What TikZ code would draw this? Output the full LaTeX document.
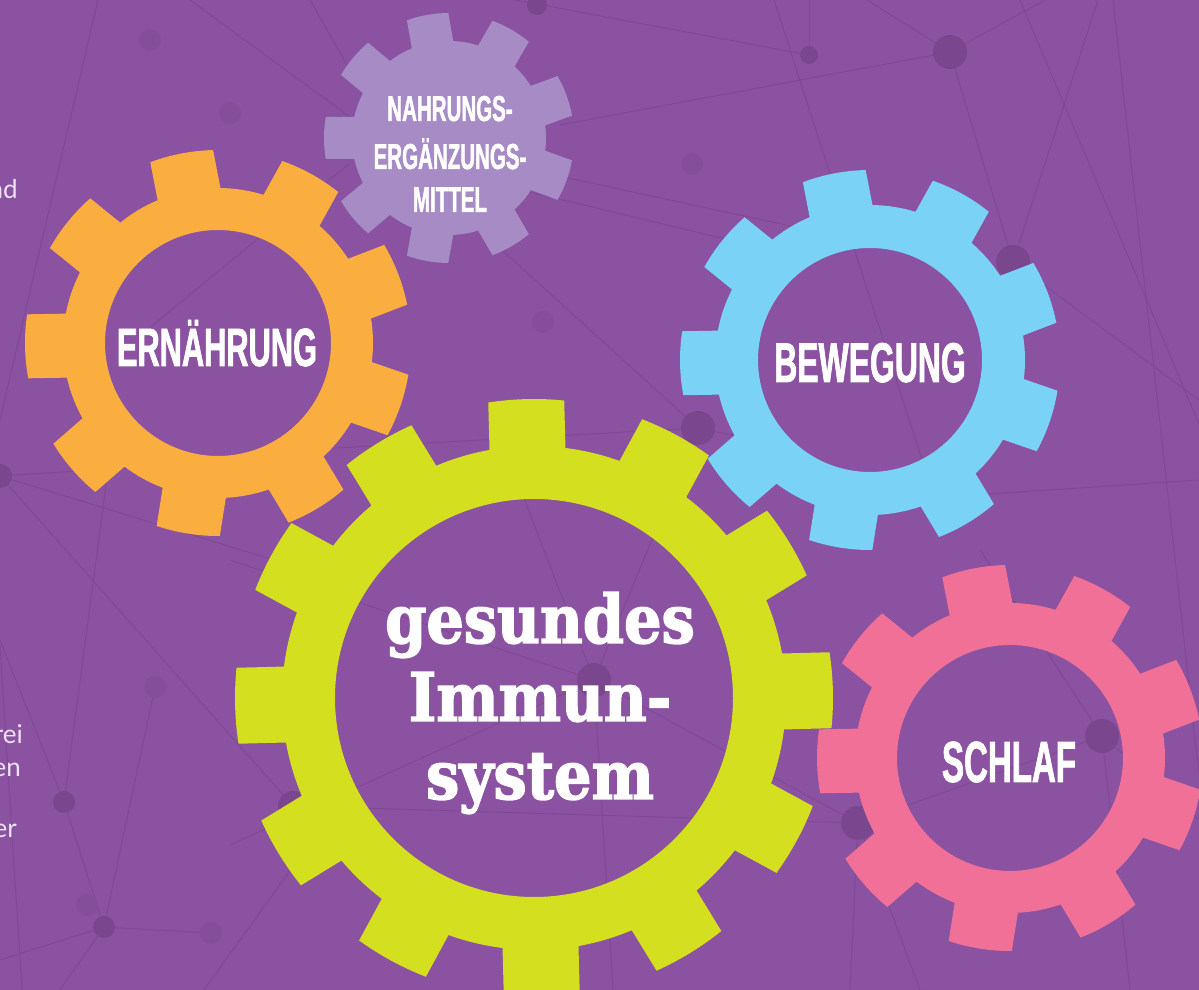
\documentclass[tikz,border=0pt]{standalone}
\usepackage{fontspec}
\newfontfamily\labelfont[FakeStretch=0.57,FakeBold=1.2]{Liberation Sans}
\newfontfamily\slabfont[FakeStretch=0.88,FakeBold=2.2]{DejaVu Serif}
\newfontfamily\sidefont{Lato}
\definecolor{bg}{RGB}{138,82,160}
\definecolor{netline}{RGB}{127,73,148}
\definecolor{netdot}{RGB}{122,70,142}
\definecolor{faintdot}{RGB}{133,78,154}
\definecolor{gorange}{RGB}{251,174,64}
\definecolor{glilac}{RGB}{167,139,196}
\definecolor{gblue}{RGB}{122,211,246}
\definecolor{ggreen}{RGB}{212,223,32}
\definecolor{gpink}{RGB}{240,112,151}
\definecolor{sidetext}{RGB}{236,226,242}
\tikzset{
  net/.style={draw=netline,line width=0.9pt},
  dotbig/.style={fill=netdot},
  dotfaint/.style={fill=faintdot},
  gearlabel/.style={text=white,inner sep=0pt,anchor=base,font=\labelfont\bfseries},
  slablabel/.style={text=white,inner sep=0pt,anchor=base,font=\slabfont\bfseries\fontsize{67}{67}\selectfont},
  sidelabel/.style={text=sidetext,inner sep=0pt,anchor=base east,font=\sidefont\fontsize{26}{26}\selectfont},
}
% #1 cx, #2 cy (image coords, y down), #3 teeth, #4 tip radius, #5 root radius,
% #6 hole path, #7 tooth half width, #8 first tooth angle, #9 colour
\newcommand\drawgear[9]{%
  \pgfmathsetmacro\gbr{asin(#7/#5)}%
  \pgfmathsetmacro\gbt{asin(#7/#4)}%
  \pgfmathsetmacro\gstep{360/#3}%
  \begin{scope}[shift={(#1,990-#2)}]
    \fill[#9,even odd rule] ({#8-\gbr}:#5pt)
      \foreach \i in {1,...,#3}{
        -- ({#8+(\i-1)*\gstep-\gbt}:#4pt)
        arc[start angle={#8+(\i-1)*\gstep-\gbt}, end angle={#8+(\i-1)*\gstep+\gbt}, radius=#4pt]
        -- ({#8+(\i-1)*\gstep+\gbr}:#5pt)
        arc[start angle={#8+(\i-1)*\gstep+\gbr}, end angle={#8+\i*\gstep-\gbr}, radius=#5pt]
      } -- cycle #6;
  \end{scope}}
\begin{document}
\begin{tikzpicture}[x=1pt,y=1pt]
\useasboundingbox (0,0) rectangle (1199,990);
\fill[bg] (0,0) rectangle (1199,990);
\begin{scope}
\clip (0,0) rectangle (1199,990);
% network dots
\coordinate (D1) at (537,985);
\coordinate (D2) at (809,935);
\coordinate (D3) at (950,938);
\coordinate (D4) at (692,826);
\coordinate (D5) at (1013,728);
\coordinate (D6) at (698,562);
\coordinate (D7) at (594,310);
\coordinate (D8) at (293,184);
\coordinate (D9) at (1102,254);
\coordinate (D10) at (858,167);
\coordinate (D11) at (0,514);
\coordinate (D12) at (64,188);
\coordinate (D13) at (104,63);
% network lines
\draw[net] (809,990) -- (D2);
\draw[net] (515,990) -- (D2);
\draw[net] (774,990) -- (935,490);
\draw[net] (560,865) -- (D3);
\draw[net] (D3) -- (1045,990);
\draw[net] (D3) -- (867,990);
\draw[net] (D3) -- (D5);
\draw[net] (D5) -- (1098,990);
\draw[net] (D5) -- (1199,590);
\draw[net] (1020,990) -- (1199,566);
\draw[net] (1113,990) -- (1199,215);
\draw[net] (430,822) -- (800,733);
\draw[net] (540,818) -- (800,762);
\draw[net] (480,760) -- (D6);
\draw[net] (300,540) -- (D6);
\draw[net] (D6) -- (800,540);
\draw[net] (D6) -- (D7);
\draw[net] (490,580) -- (D7);
\draw[net] (230,430) -- (D7);
\draw[net] (D7) -- (230,145);
\draw[net] (D7) -- (D10);
\draw[net] (D7) -- (613,0);
\draw[net] (D8) -- (D10);
\draw[net] (D10) -- (D9);
\draw[net] (D10) -- (850,0);
\draw[net] (D10) -- (920,0);
\draw[net] (980,440) -- (D9);
\draw[net] (D9) -- (1130,0);
\draw[net] (D9) -- (1199,170);
\draw[net] (900,490) -- (1199,510);
\draw[net] (D11) -- (D8);
\draw[net] (D11) -- (290,425);
\draw[net] (D11) -- (250,530);
\draw[net] (D12) -- (108,520);
\draw[net] (D12) -- (D13);
\draw[net] (0,350) -- (D12);
\draw[net] (D13) -- (0,30);
\draw[net] (D13) -- (60,0);
\draw[net] (D13) -- (211,57);
\draw[net] (D13) -- (155,303);
\draw[net] (0,345) -- (22,0);
\draw[net] (204,0) -- (330,175);
\draw[net] (98,990) -- (0,570);
\draw[net] (190,990) -- (350,873);
\draw[net] (310,990) -- (350,920);
\draw[net] (147,660) -- (350,827);
% dots
\fill[dotbig] (D1) circle[radius=10pt];
\fill[dotbig] (D2) circle[radius=9pt];
\fill[dotbig] (D3) circle[radius=17pt];
\fill[dotfaint] (D4) circle[radius=11pt];
\fill[dotbig] (D5) circle[radius=17pt];
\fill[dotbig] (D6) circle[radius=17pt];
\fill[dotbig] (D7) circle[radius=17pt];
\fill[dotbig] (D8) circle[radius=15pt];
\fill[dotbig] (D9) circle[radius=17pt];
\fill[dotbig] (D10) circle[radius=17pt];
\fill[dotbig] (D11) circle[radius=12pt];
\fill[dotbig] (D12) circle[radius=11pt];
\fill[dotbig] (D13) circle[radius=11pt];
\fill[dotfaint] (155,303) circle[radius=11pt];
\fill[dotfaint] (87,85) circle[radius=11pt];
\fill[dotfaint] (211,57) circle[radius=11pt];
\fill[dotfaint] (150,950) circle[radius=11pt];
\fill[dotfaint] (230,877) circle[radius=11pt];
\fill[dotfaint] (543,668) circle[radius=11pt];
\end{scope}
% side text fragments (cut by the left edge, as in the reference)
\node[sidelabel] (t1) at (18,791) {nd};
\node[sidelabel] (t2) at (23,246) {rei};
\node[sidelabel] (t3) at (21,213) {en};
\node[sidelabel] (t4) at (17,152) {er};
% gears
\drawgear{218}{343}{9}{193}{155}{(0,0) circle[radius=113pt]}{32}{101}{gorange}
\drawgear{449}{138}{9}{125}{97}{}{21}{100}{glilac}
\drawgear{870}{360}{9}{190}{155}{(0,0) circle[radius=112pt]}{32}{101}{gblue}
\drawgear{534}{698}{12}{299}{252}{(0,0) circle[radius=199pt]}{38}{91.5}{ggreen}
\drawgear{1010}{758}{9}{193}{155}{(0,0) circle[radius=113pt]}{32}{101}{gpink}
% labels
\node[gearlabel,font=\labelfont\bfseries\fontsize{54}{54}\selectfont] (ern) at (217,624) {ERNÄHRUNG};
\node[gearlabel,font=\labelfont\bfseries\fontsize{56}{56}\selectfont] (bew) at (870,608) {BEWEGUNG};
\node[gearlabel,font=\labelfont\bfseries\fontsize{58}{58}\selectfont] (sch) at (1009,208) {SCHLAF};
\node[gearlabel,font=\labelfont\bfseries\fontsize{36}{36}\selectfont] (n1) at (450,869) {NAHRUNGS-};
\node[gearlabel,font=\labelfont\bfseries\fontsize{36}{36}\selectfont] (n2) at (450,821) {ERGÄNZUNGS-};
\node[gearlabel,font=\labelfont\bfseries\fontsize{36}{36}\selectfont] (n3) at (450,778) {MITTEL};
\node[slablabel] (g1) at (540,347) {gesundes};
\node[slablabel] (g2) at (540,269) {Immun-};
\node[slablabel] (g3) at (540,191) {system};
\end{tikzpicture}
\end{document}
